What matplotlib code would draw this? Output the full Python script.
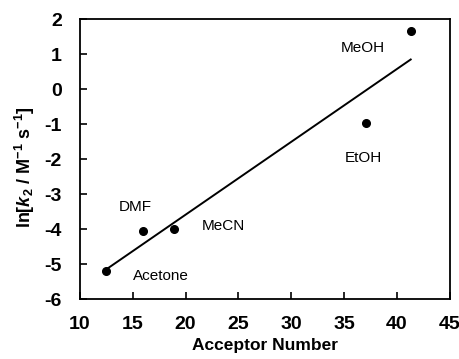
import numpy as np
import matplotlib
matplotlib.use("Agg")
import matplotlib.pyplot as plt

plt.rcParams['font.family'] = ['Liberation Sans', 'DejaVu Sans']
plt.rcParams['axes.unicode_minus'] = False
plt.rcParams['mathtext.fontset'] = 'custom'
plt.rcParams['mathtext.rm'] = 'Liberation Sans:bold'
plt.rcParams['mathtext.it'] = 'Liberation Sans:bold:italic'
plt.rcParams['mathtext.bf'] = 'Liberation Sans:bold'

solvents = ["Acetone", "DMF", "MeCN", "EtOH", "MeOH"]
acceptor_number = [12.5, 16.0, 18.9, 37.1, 41.3]
ln_k2 = [-5.20, -4.05, -4.00, -0.98, 1.65]
label_xy = [(17.7, -5.33), (15.2, -3.36), (23.6, -3.90), (36.8, -1.98), (36.8, 1.17)]

fig = plt.figure(figsize=(4.59, 3.59), dpi=100)
ax = fig.add_axes([0.174, 0.167, 0.806, 0.780])

# least squares line over the data range
slope, intercept = np.polyfit(acceptor_number, ln_k2, 1)
xfit = np.array([min(acceptor_number), max(acceptor_number)])
ax.plot(xfit, slope * xfit + intercept, color='black', lw=1.4)

ax.plot(acceptor_number, ln_k2, 'o', color='black', ms=5.5)
for name, (tx, ty) in zip(solvents, label_xy):
    ax.text(tx, ty, name, fontsize=11, ha='center', va='center')

ax.set_xlim(10, 45)
ax.set_ylim(-6, 2)
ax.set_xticks(range(10, 46, 5))
ax.set_yticks(range(-6, 3))
ax.tick_params(direction='in', length=5, width=1.2, labelsize=14, pad=12)
ax.tick_params(axis='y', pad=13)
for lab in ax.get_xticklabels() + ax.get_yticklabels():
    lab.set_fontweight('bold')
for s in ax.spines.values():
    s.set_linewidth(1.3)

ax.set_xlabel("Acceptor Number", fontsize=12.5, fontweight='bold', labelpad=4)
ax.set_ylabel(r"ln[$\mathit{k}_2$ / M$^{-1}$ s$^{-1}$]", fontsize=13, fontweight='bold')
ax.yaxis.set_label_coords(-0.115, 0.47)

fig.savefig("out.png", dpi=100, facecolor='white')
